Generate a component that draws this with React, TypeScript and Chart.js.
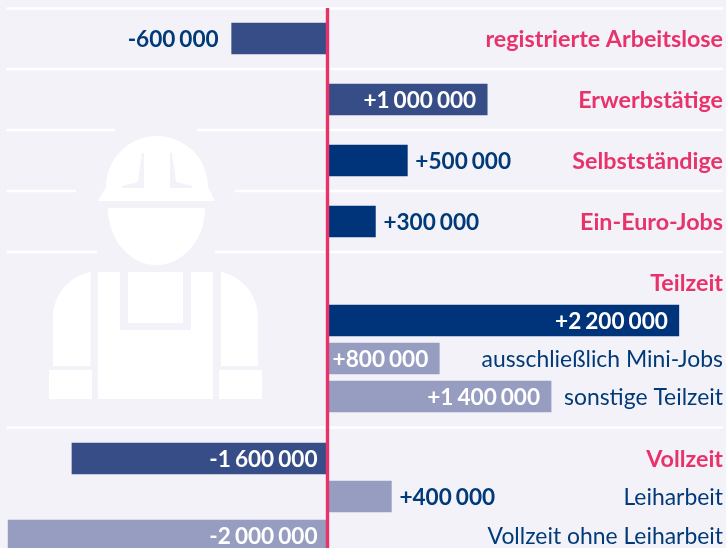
import React, { useEffect, useRef } from "react";
import { Chart, registerables, CategoryScale } from "chart.js";

Chart.register(...registerables);

const categories = [
  "registrierte Arbeitslose",
  "Erwerbstätige",
  "Selbstständige",
  "Ein-Euro-Jobs",
  "Teilzeit",
  "",
  "ausschließlich Mini-Jobs",
  "sonstige Teilzeit",
  "Vollzeit",
  "Leiharbeit",
  "Vollzeit ohne Leiharbeit",
];
// Bar lengths as drawn. The Mini-Jobs bar is visibly shorter than its printed label.
const values = [-600000, 1000000, 500000, 300000, null, 2200000, 700000, 1400000, -1600000, 400000, -2000000];
const valueLabels = ["-600 000", "+1 000 000", "+500 000", "+300 000", "", "+2 200 000", "+800 000", "+1 400 000", "-1 600 000", "+400 000", "-2 000 000"];
const labelInside = [false, true, false, false, false, true, true, true, true, false, true];
const headingRows = [true, true, true, true, true, false, false, false, true, false, false];
const barColors = ["#364d87", "#364d87", "#00347a", "#00347a", "#00347a", "#00347a", "#979dc1", "#979dc1", "#364d87", "#979dc1", "#979dc1"];
const separatorsAfterRow = [0, 1, 2, 3, 7];

const BG = "#f4f2f9";
const RED = "#e8336a";
const NAVY = "#003a78";
const FONT = "Lato, 'Open Sans', sans-serif";

// Uneven row rhythm of the graphic, expressed as a scale
const FIRST_ROW = 38.5;
const rowSteps = [61, 61, 61, 61, 38, 38, 38, 62, 38, 39];
const PX_PER_UNIT = 159.7 / 1000000;
const ZERO_PX = 327.5;

class RowScale extends CategoryScale {
  static id = "rows";
  static defaults = CategoryScale.defaults;
  getPixelForValue(value: any) {
    const idx = typeof value === "number" ? value : (this as any).parse(value);
    let y = FIRST_ROW;
    for (let i = 0; i < idx; i++) y += rowSteps[i];
    return y;
  }
}
Chart.register(RowScale as any);

function workerPath(): { body: Path2D; grooves: Path2D } {
  const body = new Path2D();
  // helmet
  body.moveTo(106, 187);
  body.arc(157, 187, 51, Math.PI, 0);
  body.lineTo(215, 201);
  body.lineTo(98, 201);
  body.closePath();
  // face
  body.moveTo(108, 208);
  body.lineTo(205, 208);
  body.ellipse(156.5, 208, 48.5, 57, 0, 0, Math.PI);
  body.closePath();
  // left arm
  body.moveTo(90.5, 272);
  body.lineTo(90.5, 366);
  body.lineTo(53, 366);
  body.lineTo(53, 318);
  body.bezierCurveTo(53, 294, 70, 276, 90.5, 272);
  body.closePath();
  // right arm
  body.moveTo(221, 272);
  body.bezierCurveTo(241, 276, 258, 294, 258, 318);
  body.lineTo(258, 366);
  body.lineTo(221, 366);
  body.closePath();
  // cuffs
  body.rect(49, 370, 43, 29);
  body.rect(219, 370, 43, 29);
  // bib and trousers
  body.moveTo(98, 272);
  body.lineTo(120, 272);
  body.lineTo(120, 330);
  body.lineTo(191, 330);
  body.lineTo(191, 272);
  body.lineTo(213, 272);
  body.lineTo(213, 399);
  body.lineTo(98, 399);
  body.closePath();
  body.rect(128, 272, 55, 51);

  const grooves = new Path2D();
  grooves.moveTo(142, 153);
  grooves.lineTo(144, 153);
  grooves.lineTo(144, 188);
  grooves.lineTo(121.5, 188);
  grooves.lineTo(122, 186);
  grooves.lineTo(138, 182);
  grooves.closePath();
  grooves.moveTo(170, 153);
  grooves.lineTo(172, 153);
  grooves.lineTo(176, 182);
  grooves.lineTo(192, 186);
  grooves.lineTo(192.5, 188);
  grooves.lineTo(170, 188);
  grooves.closePath();
  return { body, grooves };
}

const backdrop = {
  id: "backdrop",
  beforeDatasetsDraw(chart: any) {
    const { ctx } = chart;
    const y = chart.scales.y;
    ctx.save();
    ctx.strokeStyle = "#ffffff";
    ctx.lineWidth = 2.6;
    const ys = [y.getPixelForValue(0) - 30];
    separatorsAfterRow.forEach((r) => {
      ys.push((y.getPixelForValue(r) + y.getPixelForValue(r + 1)) / 2);
    });
    ys.forEach((py) => {
      ctx.beginPath();
      ctx.moveTo(6.5, py);
      ctx.lineTo(723, py);
      ctx.stroke();
    });
    // the figure sits in a gap cut out of the separators
    ctx.fillStyle = BG;
    ctx.fillRect(115, 125, 82, 10);
    ctx.fillRect(76, 186, 159, 10);
    ctx.fillRect(97, 247, 118, 10);
    const { body, grooves } = workerPath();
    ctx.fillStyle = "#ffffff";
    ctx.fill(body);
    ctx.fillStyle = BG;
    ctx.fill(grooves);
    ctx.restore();
  },
};

const overlay = {
  id: "overlay",
  afterDatasetsDraw(chart: any) {
    const { ctx } = chart;
    const x = chart.scales.x;
    const meta = chart.getDatasetMeta(0);
    ctx.save();
    ctx.textBaseline = "middle";
    ctx.font = `700 22.6px ${FONT}`;
    (ctx as any).wordSpacing = "-1.5px";
    values.forEach((v, i) => {
      if (v === null || !valueLabels[i]) return;
      const bar = meta.data[i];
      const inside = labelInside[i];
      ctx.fillStyle = inside ? "#ffffff" : NAVY;
      let px: number;
      if (inside && v < 0) {
        ctx.textAlign = "right";
        px = x.getPixelForValue(0) - 10;
      } else if (inside) {
        ctx.textAlign = "right";
        px = bar.x - 11;
      } else if (v < 0) {
        ctx.textAlign = "right";
        px = bar.x - 13;
      } else {
        ctx.textAlign = "left";
        px = bar.x + 8;
      }
      ctx.fillText(valueLabels[i], px, bar.y + 1);
    });
    (ctx as any).wordSpacing = "0px";
    const zero = x.getPixelForValue(0);
    ctx.strokeStyle = RED;
    ctx.lineWidth = 3.4;
    ctx.beginPath();
    ctx.moveTo(zero, chart.scales.y.getPixelForValue(0) - 30.5);
    ctx.lineTo(zero, chart.height);
    ctx.stroke();
    ctx.restore();
  },
};

export default function App() {
  const ref = useRef<HTMLCanvasElement>(null);
  useEffect(() => {
    const chart = new Chart(ref.current as HTMLCanvasElement, {
      type: "bar",
      data: {
        labels: categories,
        datasets: [
          {
            data: values as any,
            backgroundColor: barColors,
            barThickness: 31,
            barPercentage: 1,
            categoryPercentage: 1,
            borderWidth: 0,
            clip: false,
          },
        ],
      },
      options: {
        indexAxis: "y",
        animation: false,
        responsive: false,
        events: [],
        layout: { padding: { top: 0, right: 3, bottom: 0, left: 0 } },
        plugins: { legend: { display: false }, tooltip: { enabled: false }, title: { display: false } },
        scales: {
          x: {
            type: "linear",
            display: false,
            min: -ZERO_PX / PX_PER_UNIT,
            max: (723 - ZERO_PX) / PX_PER_UNIT,
          },
          y: {
            type: "rows" as any,
            position: "right",
            border: { display: false },
            grid: { display: false, drawTicks: false },
            ticks: {
              mirror: true,
              padding: 0,
              labelOffset: 1,
              autoSkip: false,
              maxRotation: 0,
              crossAlign: "near",
              color: (c: any) => (headingRows[c.index] ? RED : NAVY),
              font: (c: any) => ({
                family: FONT,
                size: headingRows[c.index] ? 23.3 : 22.9,
                weight: headingRows[c.index] ? 700 : 400,
              }),
            },
          },
        },
      },
      plugins: [backdrop, overlay],
    } as any);
    return () => chart.destroy();
  }, []);
  return (
    <div style={{ position: "fixed", left: 0, top: 0, width: 726, height: 548, background: BG, overflow: "hidden" }}>
      <canvas ref={ref} width={726} height={548} style={{ display: "block" }} />
    </div>
  );
}
